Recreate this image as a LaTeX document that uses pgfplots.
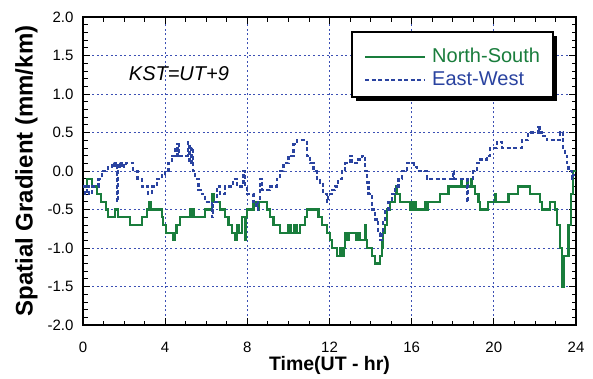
\documentclass[border=0pt]{standalone}
\usepackage{pgfplots}
\pgfplotsset{compat=1.18}
\usepackage{fontspec}
\setmainfont{Liberation Sans}
\definecolor{nsgreen}{RGB}{25,125,60}
\definecolor{ewblue}{RGB}{42,67,160}
\definecolor{gridblue}{RGB}{60,80,180}

\pgfplotstableread{
x y
0 -0.2
0.18 -0.1
0.42 -0.2
0.70 -0.3
0.86 -0.4
1.12 -0.5
1.20 -0.6
1.56 -0.5
1.72 -0.6
2.29 -0.7
2.86 -0.6
3.10 -0.5
3.20 -0.4
3.30 -0.5
3.83 -0.6
3.90 -0.7
4.03 -0.8
4.40 -0.9
4.47 -0.8
4.55 -0.7
4.72 -0.6
5.20 -0.5
5.25 -0.6
5.37 -0.5
5.42 -0.6
5.94 -0.5
6.28 -0.3
6.36 -0.4
6.67 -0.5
6.92 -0.6
7.08 -0.7
7.24 -0.8
7.42 -0.9
7.48 -0.7
7.58 -0.8
7.73 -0.6
7.87 -0.9
7.93 -0.6
7.97 -0.5
8.30 -0.4
8.50 -0.5
8.58 -0.4
8.95 -0.5
9.11 -0.6
9.27 -0.7
9.60 -0.8
10.00 -0.7
10.10 -0.8
10.30 -0.7
10.40 -0.8
10.57 -0.7
10.81 -0.6
10.90 -0.5
11.46 -0.6
11.63 -0.7
11.86 -0.8
12.03 -0.9
12.11 -1.0
12.35 -1.1
12.50 -1.0
12.56 -1.1
12.68 -1.0
12.76 -0.8
12.80 -0.9
12.92 -0.8
13.30 -0.9
13.36 -0.8
13.49 -0.9
13.72 -0.7
13.78 -0.9
13.81 -1.0
14.06 -1.1
14.22 -1.2
14.46 -1.1
14.54 -1.0
14.58 -0.9
14.62 -0.8
14.70 -0.7
14.79 -0.5
14.95 -0.4
15.19 -0.3
15.22 -0.2
15.27 -0.3
15.44 -0.4
15.92 -0.5
16.00 -0.4
16.05 -0.5
16.15 -0.4
16.20 -0.5
16.65 -0.4
16.72 -0.5
16.78 -0.4
17.38 -0.3
17.79 -0.2
18.40 -0.1
18.45 -0.2
18.70 -0.1
18.76 -0.2
18.90 -0.1
18.95 -0.2
19.08 -0.3
19.25 -0.4
19.33 -0.5
19.73 -0.4
20.06 -0.3
20.12 -0.4
20.71 -0.3
21.19 -0.2
21.76 -0.3
22.25 -0.4
22.33 -0.5
22.74 -0.4
22.98 -0.5
23.06 -0.7
23.22 -1.0
23.31 -1.5
23.42 -1.1
23.63 -0.7
23.74 -0.3
23.87 0.0
24.00 0.0
}\nsdata

\pgfplotstableread{
x y
0 -0.2
0.10 -0.3
0.20 -0.2
0.30 -0.3
0.45 -0.2
0.75 -0.1
0.91 0.0
1.20 0.05
1.40 0.1
1.50 0.05
1.60 0.1
1.66 -0.4
1.70 0.1
1.80 0.05
1.90 0.1
2.00 0.05
2.10 0.1
2.45 0.0
2.65 -0.1
2.86 -0.2
3.18 -0.3
3.34 -0.2
3.59 -0.1
3.83 -0.05
4.00 0.0
4.16 0.1
4.32 0.2
4.48 0.3
4.55 0.2
4.60 0.35
4.66 0.2
5.10 0.37
5.18 0.1
5.28 0.3
5.36 0.0
5.45 -0.1
5.62 -0.25
5.78 -0.3
5.94 -0.4
6.28 -0.6
6.34 -0.4
6.51 -0.2
6.67 -0.3
6.92 -0.2
7.32 -0.1
7.49 -0.2
7.81 0.0
7.90 -0.2
7.97 -0.3
8.30 -0.4
8.45 -0.5
8.52 -0.4
8.62 -0.1
8.70 -0.25
9.11 -0.2
9.43 -0.1
9.60 0.0
9.76 0.1
10.00 0.2
10.25 0.35
10.41 0.4
10.90 0.2
11.06 0.1
11.22 0.0
11.38 -0.1
11.54 -0.15
11.70 -0.3
11.86 -0.4
11.92 -0.3
12.11 -0.25
12.27 -0.2
12.43 -0.1
12.60 0.0
12.76 0.1
13.00 0.2
13.10 0.1
13.33 0.15
13.57 0.2
13.73 0.0
13.81 -0.15
13.90 -0.3
14.06 -0.5
14.22 -0.63
14.38 -0.8
14.46 -0.9
14.54 -0.8
14.62 -0.65
14.71 -0.5
14.87 -0.4
15.03 -0.3
15.19 -0.2
15.36 -0.1
15.52 0.0
15.76 0.1
16.10 0.05
16.25 0.0
16.74 -0.1
18.03 0.0
18.08 -0.1
18.68 -0.4
18.74 -0.1
19.00 0.0
19.17 0.1
19.33 0.15
19.65 0.2
19.81 0.3
20.14 0.38
20.38 0.3
21.36 0.4
21.68 0.5
22.17 0.57
22.22 0.5
22.41 0.45
22.57 0.4
23.22 0.5
23.38 0.3
23.47 0.2
23.55 0.1
23.63 0.0
23.79 -0.1
23.87 -0.05
24.00 -0.05
}\ewdata

\begin{document}
\begin{tikzpicture}
\path[use as bounding box] (-83pt,-53pt) rectangle (510pt,325pt);
\begin{axis}[
  at={(0pt,0pt)}, anchor=south west,
  scale only axis, width=493pt, height=308pt,
  xmin=0, xmax=24, ymin=-2, ymax=2,
  xtick={0,4,...,24}, minor x tick num=3,
  ytick={-2,-1.5,...,2}, minor y tick num=4,
  /pgf/number format/assume math mode=true,
  ticklabel style={font=\fontsize{15}{18}\selectfont},
  xticklabel style={anchor=base, yshift=-27pt},
  yticklabel style={/pgf/number format/fixed, /pgf/number format/fixed zerofill, /pgf/number format/precision=1, xshift=-6pt},
  tick align=inside,
  major tick length=7pt, minor tick length=4.5pt,
  tick style={black, line width=0.8pt},
  axis line style={line width=1.2pt},
  grid=major,
  major grid style={gridblue, dash pattern=on 2pt off 2.6pt, line width=0.8pt},
  xlabel={Time(UT - hr)}, ylabel={Spatial Gradient (mm/km)},
  xlabel style={font=\fontsize{19.5}{23}\selectfont\bfseries, at={(axis description cs:0.5,0)}, anchor=base, yshift=-45.5pt},
  ylabel style={font=\fontsize{24}{28}\selectfont\bfseries, at={(axis description cs:-0.1146,0.5)}, anchor=center},
  legend style={at={(axis description cs:0.570,0.8987)}, anchor=north west,
    draw=none, fill=none, inner sep=0pt,
    font=\fontsize{20}{23}\selectfont,
    nodes={inner sep=0pt, text height=14pt, text depth=4pt},
    row sep=5pt, column sep=6pt},
  legend cell align=left,
  legend image code/.code={\draw[#1, line width=2pt] (0pt,0pt) -- (60pt,0pt);},
]
\fill[black] (axis description cs:0.5537,0.7273) rectangle (axis description cs:0.9614,0.9383);
\draw[line width=1.5pt, fill=white] (axis description cs:0.5456,0.7403) rectangle (axis description cs:0.9533,0.9513);
\addplot[const plot, mark=none, nsgreen, line width=2.2pt] table {\nsdata};
\addlegendentry{\textcolor{nsgreen}{North-South}}
\addplot[const plot, mark=none, ewblue, line width=2.2pt, dash pattern=on 4pt off 2.5pt] table {\ewdata};
\addlegendentry{\textcolor{ewblue}{East-West}}
\node[font=\fontsize{20}{24}\selectfont\itshape] at (axis cs:4.67,1.27) {KST=UT+9};
\end{axis}
\end{tikzpicture}
\end{document}
